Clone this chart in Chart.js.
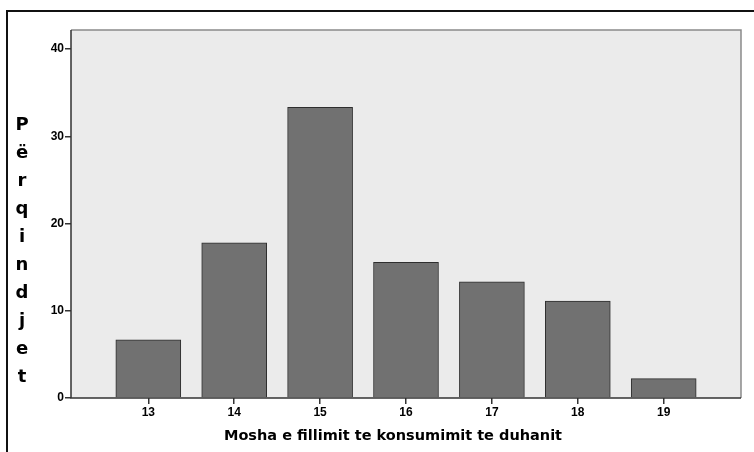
<!DOCTYPE html>
<html>
<head>
<meta charset="utf-8">
<script src="https://cdn.jsdelivr.net/npm/chart.js@4/dist/chart.umd.min.js"></script>
<style>
  html, body { margin: 0; padding: 0; background: #fff; }
  #wrap { position: relative; width: 754px; height: 452px; }
  #frame { position: absolute; left: 6px; top: 10px; right: 0; bottom: 0;
           border-top: 2px solid #111; border-left: 2px solid #111; }
  canvas { position: absolute; left: 0; top: 0; }
</style>
</head>
<body>
<div id="wrap">
  <div id="frame"></div>
  <canvas id="c" width="754" height="452"></canvas>
</div>
<script>
// Mosha e fillimit te konsumimit te duhanit (age started smoking)
const ages = [13, 14, 15, 16, 17, 18, 19];
const percents = [6.67, 17.78, 33.33, 15.56, 13.33, 11.11, 2.22];
const yTicks = [0, 10, 20, 30, 40];
const xTitle = 'Mosha e fillimit te konsumimit te duhanit';
const yTitle = 'Përqindjet';

const fontFam = '"Liberation Sans", Arial, sans-serif';
const wideFam = '"DejaVu Sans", sans-serif';

const plotBg = {
  id: 'plotBg',
  beforeDraw(chart) {
    const { ctx, chartArea: a } = chart;
    ctx.save();
    ctx.fillStyle = '#ebebeb';
    ctx.fillRect(a.left, a.top, a.right - a.left, a.bottom - a.top);
    ctx.restore();
  },
  afterDraw(chart) {
    const { ctx, chartArea: a } = chart;
    ctx.save();
    ctx.lineWidth = 1.5;
    ctx.strokeStyle = '#8a8a8a';
    ctx.beginPath();
    ctx.moveTo(a.left, a.top);
    ctx.lineTo(a.right, a.top);
    ctx.lineTo(a.right, a.bottom);
    ctx.stroke();
    ctx.strokeStyle = '#333';
    ctx.beginPath();
    ctx.moveTo(a.left, a.top);
    ctx.lineTo(a.left, a.bottom);
    ctx.lineTo(a.right, a.bottom);
    ctx.stroke();

    ctx.fillStyle = '#000';
    ctx.textAlign = 'center';
    ctx.textBaseline = 'middle';
    // x title, sits a bit left of the plot centre like the original
    ctx.font = 'bold 14.5px ' + wideFam;
    ctx.fillText(xTitle, (a.left + a.right) / 2 - 13, 436);
    // vertical stacked y title
    ctx.font = 'bold 18px ' + wideFam;
    Array.from(yTitle).forEach((ch, i) => ctx.fillText(ch, 22, 125 + i * 28));
    ctx.restore();
  }
};

new Chart(document.getElementById('c'), {
  type: 'bar',
  data: {
    datasets: [{
      data: ages.map((a, i) => ({ x: a, y: percents[i] })),
      backgroundColor: '#717171',
      borderColor: '#2e2e2e',
      borderWidth: 1,
      barThickness: 65
    }]
  },
  options: {
    responsive: false,
    animation: false,
    layout: { padding: { top: 30, right: 13, left: 0, bottom: 0 } },
    plugins: { legend: { display: false }, tooltip: { enabled: false } },
    scales: {
      x: {
        type: 'linear',
        min: 12.1,
        max: 19.9,
        offset: false,
        afterBuildTicks: s => { s.ticks = ages.map(v => ({ value: v })); },
        afterFit: s => { s.height = 54; },
        grid: { offset: false, drawOnChartArea: false, drawTicks: true, tickLength: 6, color: '#333', lineWidth: 1.5 },
        border: { display: false },
        ticks: { color: '#000', padding: 1, font: { family: fontFam, size: 12, weight: 'bold' } }
      },
      y: {
        min: 0,
        max: 42.2,
        afterBuildTicks: s => { s.ticks = yTicks.map(v => ({ value: v })); },
        afterFit: s => { s.width = 71; },
        grid: { drawOnChartArea: false, drawTicks: true, tickLength: 6, color: '#333', lineWidth: 1.5 },
        border: { display: false },
        ticks: { color: '#000', padding: 1, font: { family: fontFam, size: 12, weight: 'bold' } }
      }
    }
  },
  plugins: [plotBg]
});
</script>
</body>
</html>
